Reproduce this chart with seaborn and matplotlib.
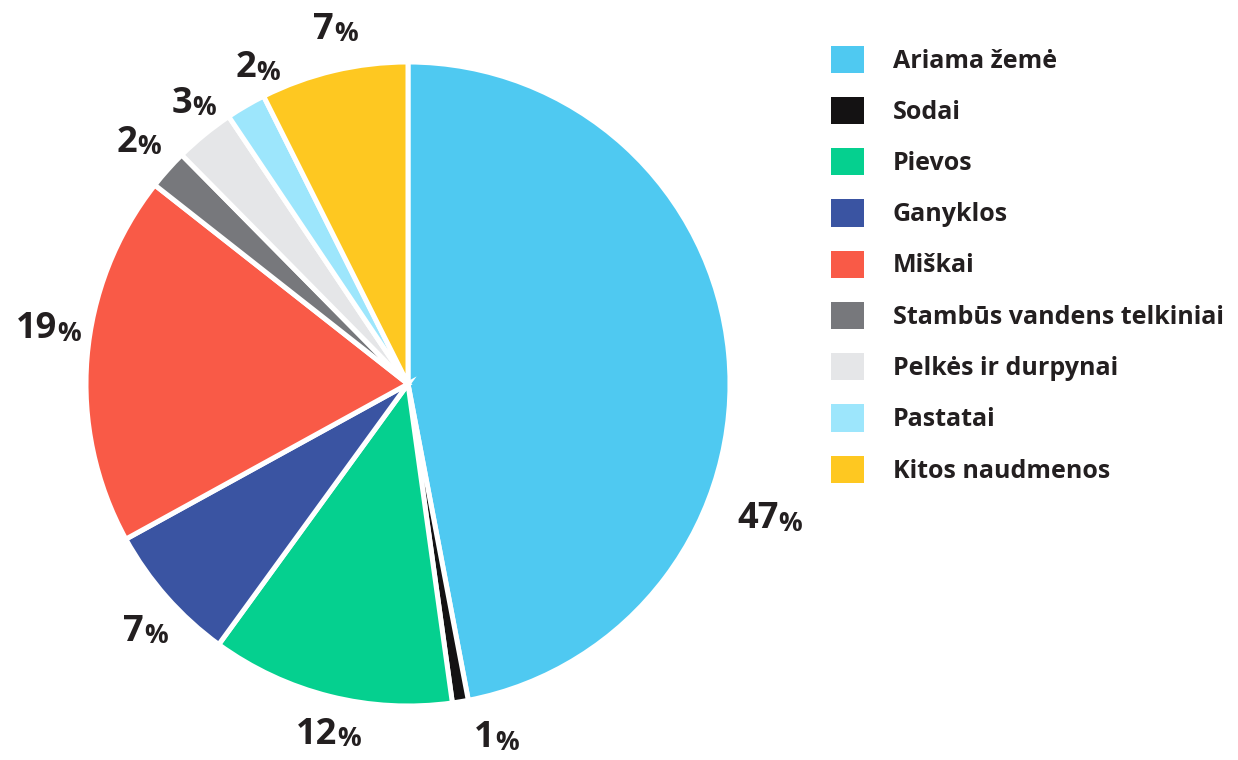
import matplotlib
matplotlib.use("Agg")
import matplotlib.pyplot as plt
import matplotlib.patches as mpatches
import seaborn as sns

# land use shares (%)
categories = ['Ariama žemė', 'Sodai', 'Pievos', 'Ganyklos', 'Miškai',
              'Stambūs vandens telkiniai', 'Pelkės ir durpynai', 'Pastatai',
              'Kitos naudmenos']
shares = [47.0, 0.8, 12.2, 7.0, 18.6, 2.0, 3.0, 2.0, 7.4]
share_labels = ['47', '1', '12', '7', '19', '2', '3', '2', '7']
colors = ['#4FC9F1', '#141213', '#05D08F', '#3A54A2', '#F95A47',
          '#77787C', '#E5E6E8', '#9DE6FC', '#FEC821']

# label positions (in pie-radius units, relative to centre)
label_pos = [(1.11, -0.42), (0.23, -1.10), (-0.26, -1.09), (-0.86, -0.77),
             (-1.13, 0.17), (-0.88, 0.75), (-0.71, 0.87), (-0.51, 0.98),
             (-0.27, 1.10)]

sns.set_theme(style='white')
plt.rcParams['font.family'] = ['Open Sans', 'DejaVu Sans']
text_color = '#231F20'

W, H = 1238, 760
cx, cy, R = 408, 384, 322
fig = plt.figure(figsize=(W / 100, H / 100), dpi=100)
ax = fig.add_axes([0, 0, 1, 1])

palette = sns.color_palette(colors)
ax.pie(shares, colors=palette, startangle=90, counterclock=False,
       radius=1, wedgeprops=dict(edgecolor='white', linewidth=3.6))
ax.set_xlim(-cx / R, (W - cx) / R)
ax.set_ylim(-(H - cy) / R, cy / R)
ax.set_aspect('equal')
ax.axis('off')

for lab, (x, y) in zip(share_labels, label_pos):
    ax.text(x + 0.04, y, lab, ha='right', va='center', fontsize=26,
            fontweight='bold', color=text_color)
    ax.text(x + 0.04, y - 0.012, '%', ha='left', va='center', fontsize=19,
            fontweight='bold', color=text_color)

handles = [mpatches.Patch(facecolor=c, edgecolor='none') for c in colors]
leg = fig.legend(handles, categories, loc='upper left',
                 bbox_to_anchor=(819 / W, 1 - 33 / H), frameon=False,
                 fontsize=18, handlelength=1.3, handleheight=1.3,
                 handletextpad=1.15, labelspacing=0.93, borderpad=0)
for t in leg.get_texts():
    t.set_fontweight('bold')
    t.set_color(text_color)

fig.savefig('out.png', dpi=100)
